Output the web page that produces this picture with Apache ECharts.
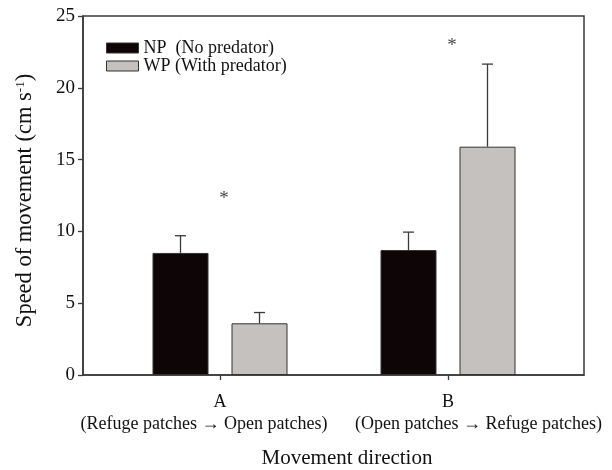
<!DOCTYPE html>
<html>
<head>
<meta charset="utf-8">
<script src="https://cdn.jsdelivr.net/npm/echarts@6/dist/echarts.min.js"></script>
<style>html,body{margin:0;padding:0;background:#fff;}#c{width:612px;height:470px;}</style>
</head>
<body>
<div id="c"></div>
<script>
// ---- data ----
const categories = ['A', 'B'];
const subLabels = ['(Refuge patches \u2192 Open patches)', '(Open patches \u2192 Refuge patches)'];
const npMeans = [8.5, 8.7];
const npErr = [1.2, 1.25];
const wpMeans = [3.6, 15.9];
const wpErr = [0.75, 5.75];
const sigY = [12.5, 23.2];
const yTicks = [0, 5, 10, 15, 20, 25];

// ---- style constants ----
const FONT = 'Liberation Serif';
const AXIS = '#3a3a3a';
const BAR_W = 56;
const GAP_PX = 23;
const CAP = 11;

const chart = echarts.init(document.getElementById('c'));

function errItem(sign) {
  return function (params, api) {
    const ci = api.value(0);
    const base = api.coord([ci, api.value(1)]);
    const top = api.coord([ci, api.value(1) + api.value(2)]);
    const x = base[0] + sign * (BAR_W + GAP_PX) / 2;
    return {
      type: 'group',
      children: [
        { type: 'line', shape: { x1: x, y1: base[1], x2: x, y2: top[1] }, style: { stroke: AXIS, lineWidth: 1.3 } },
        { type: 'line', shape: { x1: x - CAP / 2, y1: top[1], x2: x + CAP / 2, y2: top[1] }, style: { stroke: AXIS, lineWidth: 1.3 } }
      ]
    };
  };
}

const option = {
  backgroundColor: '#fff',
  animation: false,
  textStyle: { fontFamily: FONT, color: '#111' },
  legend: {
    orient: 'vertical', left: 106, top: 39, itemWidth: 32, itemHeight: 10, itemGap: 0, icon: 'rect',
    padding: 0,
    textStyle: { fontFamily: FONT, fontSize: 18, color: '#111', lineHeight: 18 },
    data: [
      { name: 'NP  (No predator)', itemStyle: { color: '#0e0507', borderColor: '#333', borderWidth: 1 } },
      { name: 'WP (With predator)', itemStyle: { color: '#c4c1be', borderColor: '#333', borderWidth: 1 } }
    ]
  },
  grid: [
    { left: 83, right: 28, top: 16, bottom: 95, outerBoundsMode: 'none', containLabel: false,
      show: true, borderColor: AXIS, borderWidth: 1.5, backgroundColor: 'transparent' },
    { left: 106, right: 50, top: 16, bottom: 95, outerBoundsMode: 'none', containLabel: false }
  ],
  xAxis: [
    {
      gridIndex: 0, type: 'value', min: 0, max: 1,
      axisLine: { show: true, lineStyle: { color: AXIS, width: 1.5 } },
      axisTick: { show: false }, axisLabel: { show: false }, splitLine: { show: false },
      name: 'Movement direction', nameLocation: 'middle', nameGap: 73,
      nameTextStyle: { fontFamily: FONT, fontSize: 21, color: '#111', padding: [0, 0, 0, 27] }
    },
    {
      gridIndex: 1, type: 'category', data: categories,
      axisLine: { show: false },
      axisTick: { show: true, alignWithLabel: true, length: 5, lineStyle: { color: AXIS, width: 1.3 } },
      axisLabel: {
        margin: 16, interval: 0, fontFamily: FONT, fontSize: 18, color: '#111', lineHeight: 22,
        formatter: function (v, i) { return v + '\n{' + (i === 0 ? 'a' : 'b') + '|' + subLabels[i] + '}'; },
        rich: {
          a: { fontFamily: FONT, fontSize: 18, color: '#111', lineHeight: 22, padding: [0, 32, 0, 0] },
          b: { fontFamily: FONT, fontSize: 18, color: '#111', lineHeight: 22, padding: [0, 0, 0, 61] }
        }
      }
    }
  ],
  yAxis: [
    {
      gridIndex: 0, type: 'value', min: 0, max: 25, interval: 5,
      axisLine: { show: true, lineStyle: { color: AXIS, width: 1.5 } },
      axisTick: { show: true, length: 5, lineStyle: { color: AXIS, width: 1.3 } },
      axisLabel: { margin: 8, fontFamily: FONT, fontSize: 19, color: '#111',
        customValues: yTicks },
      splitLine: { show: false },
      name: 'Speed of movement (cm s{sup|-1})', nameLocation: 'middle', nameGap: 46,
      nameTextStyle: { fontFamily: FONT, fontSize: 22.5, color: '#111', padding: [0, 10, 0, 0],
        rich: { sup: { fontFamily: FONT, fontSize: 13, color: '#111', verticalAlign: 'top', padding: [0, 0, 10, 0] } } }
    },
    {
      gridIndex: 1, type: 'value', min: 0, max: 25, show: false
    }
  ],
  series: [
    {
      name: 'NP  (No predator)', type: 'bar', xAxisIndex: 1, yAxisIndex: 1,
      barWidth: BAR_W, barGap: (GAP_PX / BAR_W * 100) + '%',
      itemStyle: { color: '#0e0507', borderColor: '#333', borderWidth: 1 },
      data: npMeans
    },
    {
      name: 'WP (With predator)', type: 'bar', xAxisIndex: 1, yAxisIndex: 1,
      barWidth: BAR_W,
      itemStyle: { color: '#c4c1be', borderColor: '#333', borderWidth: 1 },
      data: wpMeans
    },
    {
      type: 'custom', xAxisIndex: 1, yAxisIndex: 1, z: 3,
      renderItem: errItem(-1),
      data: npMeans.map((m, i) => [i, m, npErr[i]])
    },
    {
      type: 'custom', xAxisIndex: 1, yAxisIndex: 1, z: 3,
      renderItem: errItem(1),
      data: wpMeans.map((m, i) => [i, m, wpErr[i]])
    },
    {
      type: 'scatter', xAxisIndex: 1, yAxisIndex: 1, symbolSize: 1, itemStyle: { color: 'transparent' },
      label: { show: true, position: 'inside', formatter: '*', fontFamily: FONT, fontSize: 19, color: '#111', offset: [4, 4] },
      data: sigY.map((v, i) => [i, v])
    }
  ]
};
chart.setOption(option);
</script>
</body>
</html>
